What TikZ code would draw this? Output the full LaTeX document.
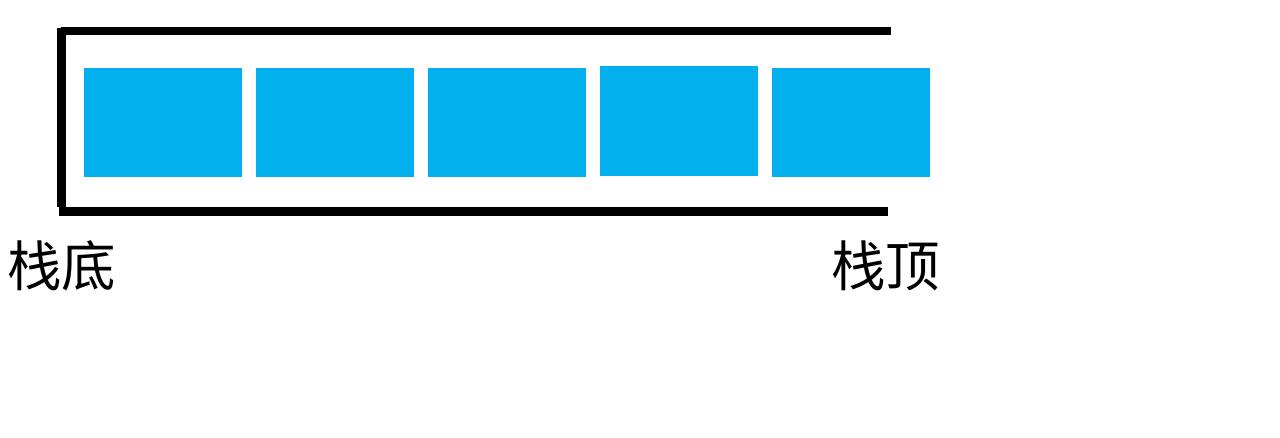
\documentclass[tikz,border=0pt]{standalone}
\usepackage{fontspec}
\usepackage{tikz}
\usepackage{xcolor}
\usetikzlibrary{positioning}
\newfontfamily\cjk{Noto Sans CJK SC}
\definecolor{stackblue}{HTML}{03B0EE}
\tikzset{elem/.style={inner sep=0pt, rectangle, fill=stackblue, minimum width=3.16cm, minimum height=2.18cm},
    wall/.style={line width=4.8pt, line cap=butt},
    lbl/.style={inner sep=0pt, font=\cjk\fontsize{31}{31}\selectfont}}

\begin{document}
\begin{tikzpicture}[x=0.02cm, y=-0.02cm]
                        \useasboundingbox (0, 0) rectangle (1280, 438);
                        \draw[wall] (61, 31) -- (891, 31);
                        \draw[wall] (61.5, 28) -- (61.5, 207);
                        \draw[wall] (59, 211.5) -- (888, 211.5);
                        \node[elem] (e1) at (163, 122.5) {};
                        \node[elem] (e2) at (335, 122.5) {};
                        \node[elem] (e3) at (507, 122.5) {};
                        \node[elem, minimum height=2.2cm] (e4) at (679, 121) {};
                        \node[elem] (e5) at (851, 122.5) {};
                        \node[lbl] (bottom) at (61.5, 266) {栈底};
                        \node[lbl] (top) at (885.5, 266) {栈顶};
                    \end{tikzpicture}
\end{document}
